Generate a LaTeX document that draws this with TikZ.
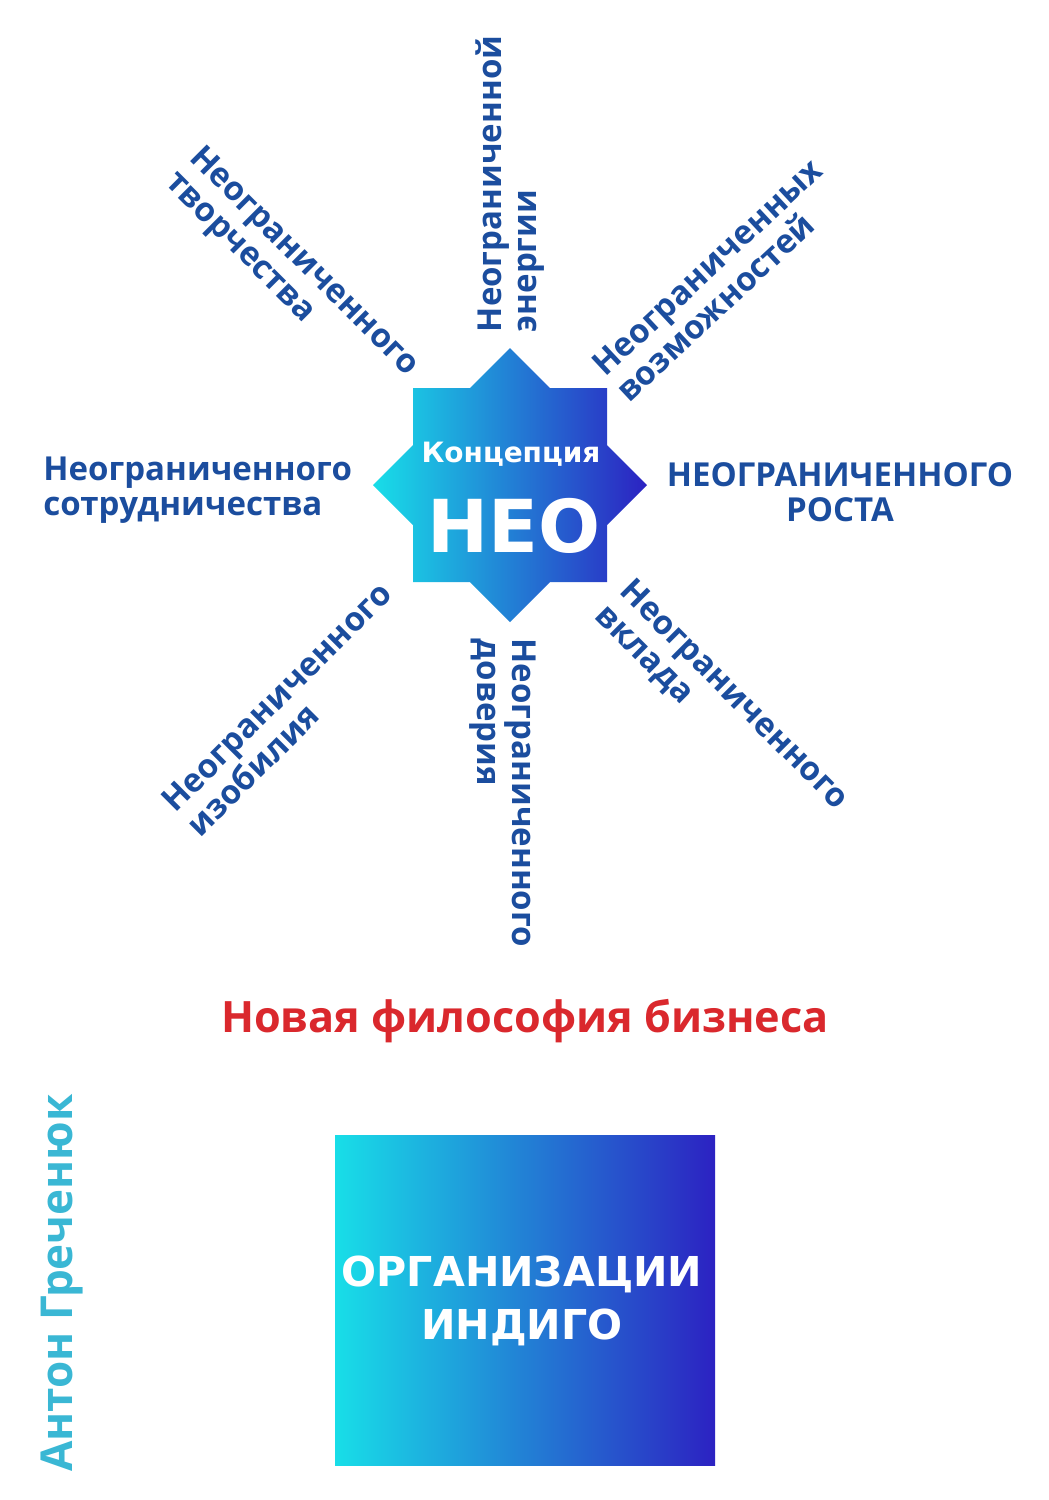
\documentclass[tikz,border=0pt]{standalone}
\usepackage{fontspec}
\setmainfont{Open Sans}
\newfontfamily\heavyfont{DejaVu Sans}
\definecolor{labelblue}{RGB}{27,77,158}
\definecolor{titlered}{RGB}{218,40,45}
\definecolor{authorcyan}{RGB}{58,183,212}
\definecolor{gradcyan}{RGB}{24,222,232}
\definecolor{gradindigo}{RGB}{44,34,194}
\begin{document}
\begin{tikzpicture}[x=0.5pt,y=-0.5pt,
  lbl/.style={text=labelblue, font=\bfseries\fontsize{16.5}{17.5}\selectfont, align=left, inner sep=0pt},
  heavy/.style={text=white, inner sep=0pt},
  grad/.style={left color=gradcyan, right color=gradindigo}]
\useasboundingbox[fill=white] (0,0) rectangle (1049,1500);

% eight-pointed star
\shade[grad] (647,485) -- (607,525) -- (607,582) -- (550,582) -- (510,622) -- (470,582)
  -- (413,582) -- (413,525) -- (373,485) -- (413,445) -- (413,388) -- (470,388)
  -- (510,348) -- (550,388) -- (607,388) -- (607,445) -- cycle;
\node[heavy, anchor=base, font=\heavyfont\bfseries\fontsize{14}{14}\selectfont] (concept) at (511,462) {Концепция};
\node[heavy, anchor=base, font=\heavyfont\bfseries\fontsize{36.5}{36.5}\selectfont] (neo) at (514,552) {НЕО};

% labels around the star
\node[lbl, rotate=90] (energy) at (510,184) {Неограниченной\\энергии};
\node[lbl, rotate=-90] (trust) at (503,793) {Неограниченного\\доверия};
\node[lbl, rotate=43] (opps) at (719,280) {Неограниченных\\возможностей};
\node[lbl, rotate=-45] (creat) at (291,275) {Неограниченного\\творчества};
\node[lbl, rotate=45] (abund) at (289,709) {Неограниченного\\изобилия};
\node[lbl, rotate=-45] (contrib) at (721,708) {Неограниченного\\вклада};
\node[lbl, anchor=west] (coop) at (43,490) {Неограниченного\\сотрудничества};
\node[lbl, align=center] (growth) at (840,492) {НЕОГРАНИЧЕННОГО\\РОСТА};

% title
\node[anchor=base, inner sep=0pt, text=titlered, font=\bfseries\fontsize{21.6}{21.6}\selectfont] (title) at (525,1032) {Новая философия бизнеса};

% author
\node[anchor=base, rotate=90, inner sep=0pt, text=authorcyan, font=\bfseries\fontsize{22}{22}\selectfont] (author) at (72,1283) {Антон Греченюк};

% book box
\shade[grad] (335,1135) rectangle (715,1465);
\node[heavy, align=center, font=\heavyfont\bfseries\fontsize{20.6}{26.5}\selectfont] (org) at (522,1301) {ОРГАНИЗАЦИИ\\ИНДИГО};
\end{tikzpicture}
\end{document}
